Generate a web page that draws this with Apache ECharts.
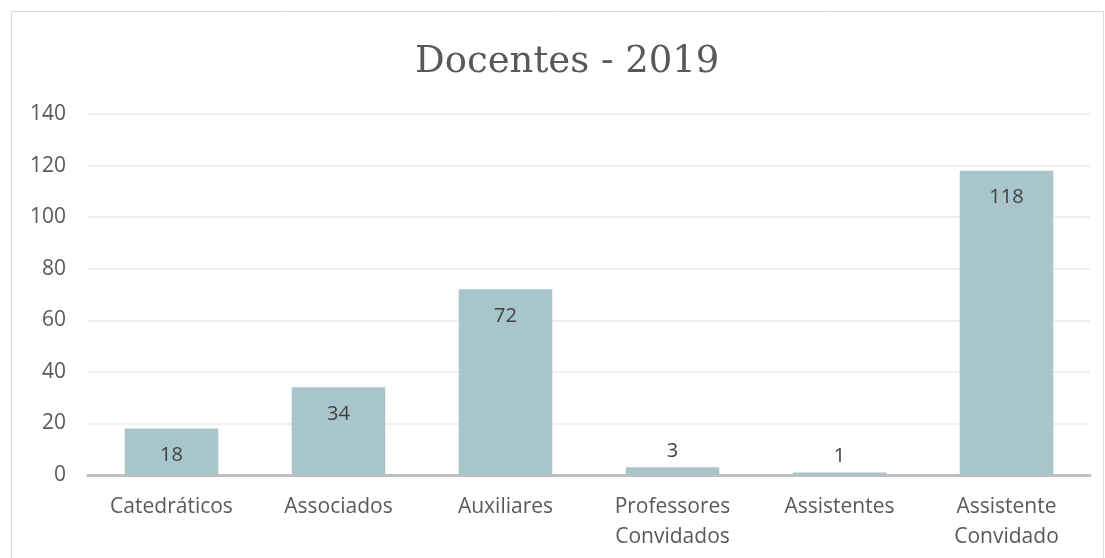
<!DOCTYPE html>
<html lang="pt">
<head>
<meta charset="UTF-8" />
<title>Docentes - 2019</title>
<style>
  * { box-sizing: border-box; margin: 0; padding: 0; }
  body { background: #fff; }
  #chart { width: 1105px; height: 558px; }
</style>
</head>
<body>
<div id="chart"></div>
<script src="https://cdn.jsdelivr.net/npm/echarts@6/dist/echarts.min.js"></script>
<script>
  // dados
  var categorias = ['Catedráticos', 'Associados', 'Auxiliares', 'Professores\nConvidados', 'Assistentes', 'Assistente\nConvidado'];
  var docentes = [18, 34, 72, 3, 1, 118];
  var yTicks = { min: 0, max: 140, interval: 20 };

  var chart = echarts.init(document.getElementById('chart'));

  var barData = docentes.map(function (v) {
    // barras pequenas: rótulo por cima
    return {
      value: v,
      label: v < 10 ? { position: 'top', distance: 6 } : { position: 'insideTop', distance: 17 }
    };
  });

  chart.setOption({
    animation: false,
    backgroundColor: '#fff',
    textStyle: { fontFamily: 'Open Sans' },
    title: {
      text: 'Docentes - 2019',
      left: 410,
      top: 39,
      textStyle: {
        fontFamily: 'DejaVu Serif',
        fontWeight: 'normal',
        fontSize: 37,
        color: '#595959'
      }
    },
    graphic: [{
      type: 'rect',
      shape: { x: 11.5, y: 11.5, width: 1092, height: 600 },
      style: { fill: 'none', stroke: '#d9d9d9', lineWidth: 1 },
      silent: true
    }],
    grid: { left: 88, right: 15, top: 114, bottom: 83 },
    xAxis: {
      type: 'category',
      data: categorias,
      axisLine: { lineStyle: { color: '#bfbfbf', width: 3 } },
      axisTick: { show: false },
      axisLabel: {
        color: '#595959',
        fontSize: 21,
        margin: 17,
        lineHeight: 30,
        interval: 0
      }
    },
    yAxis: {
      type: 'value',
      min: yTicks.min,
      max: yTicks.max,
      interval: yTicks.interval,
      axisLine: { show: false },
      axisTick: { show: false },
      axisLabel: { color: '#595959', fontSize: 21, margin: 22 },
      splitLine: { lineStyle: { color: '#efefef', width: 2 } }
    },
    series: [{
      type: 'bar',
      data: barData,
      barWidth: '56%',
      itemStyle: { color: '#a8c5cb' },
      label: {
        show: true,
        color: '#404040',
        fontSize: 20
      }
    }]
  });
</script>
</body>
</html>
